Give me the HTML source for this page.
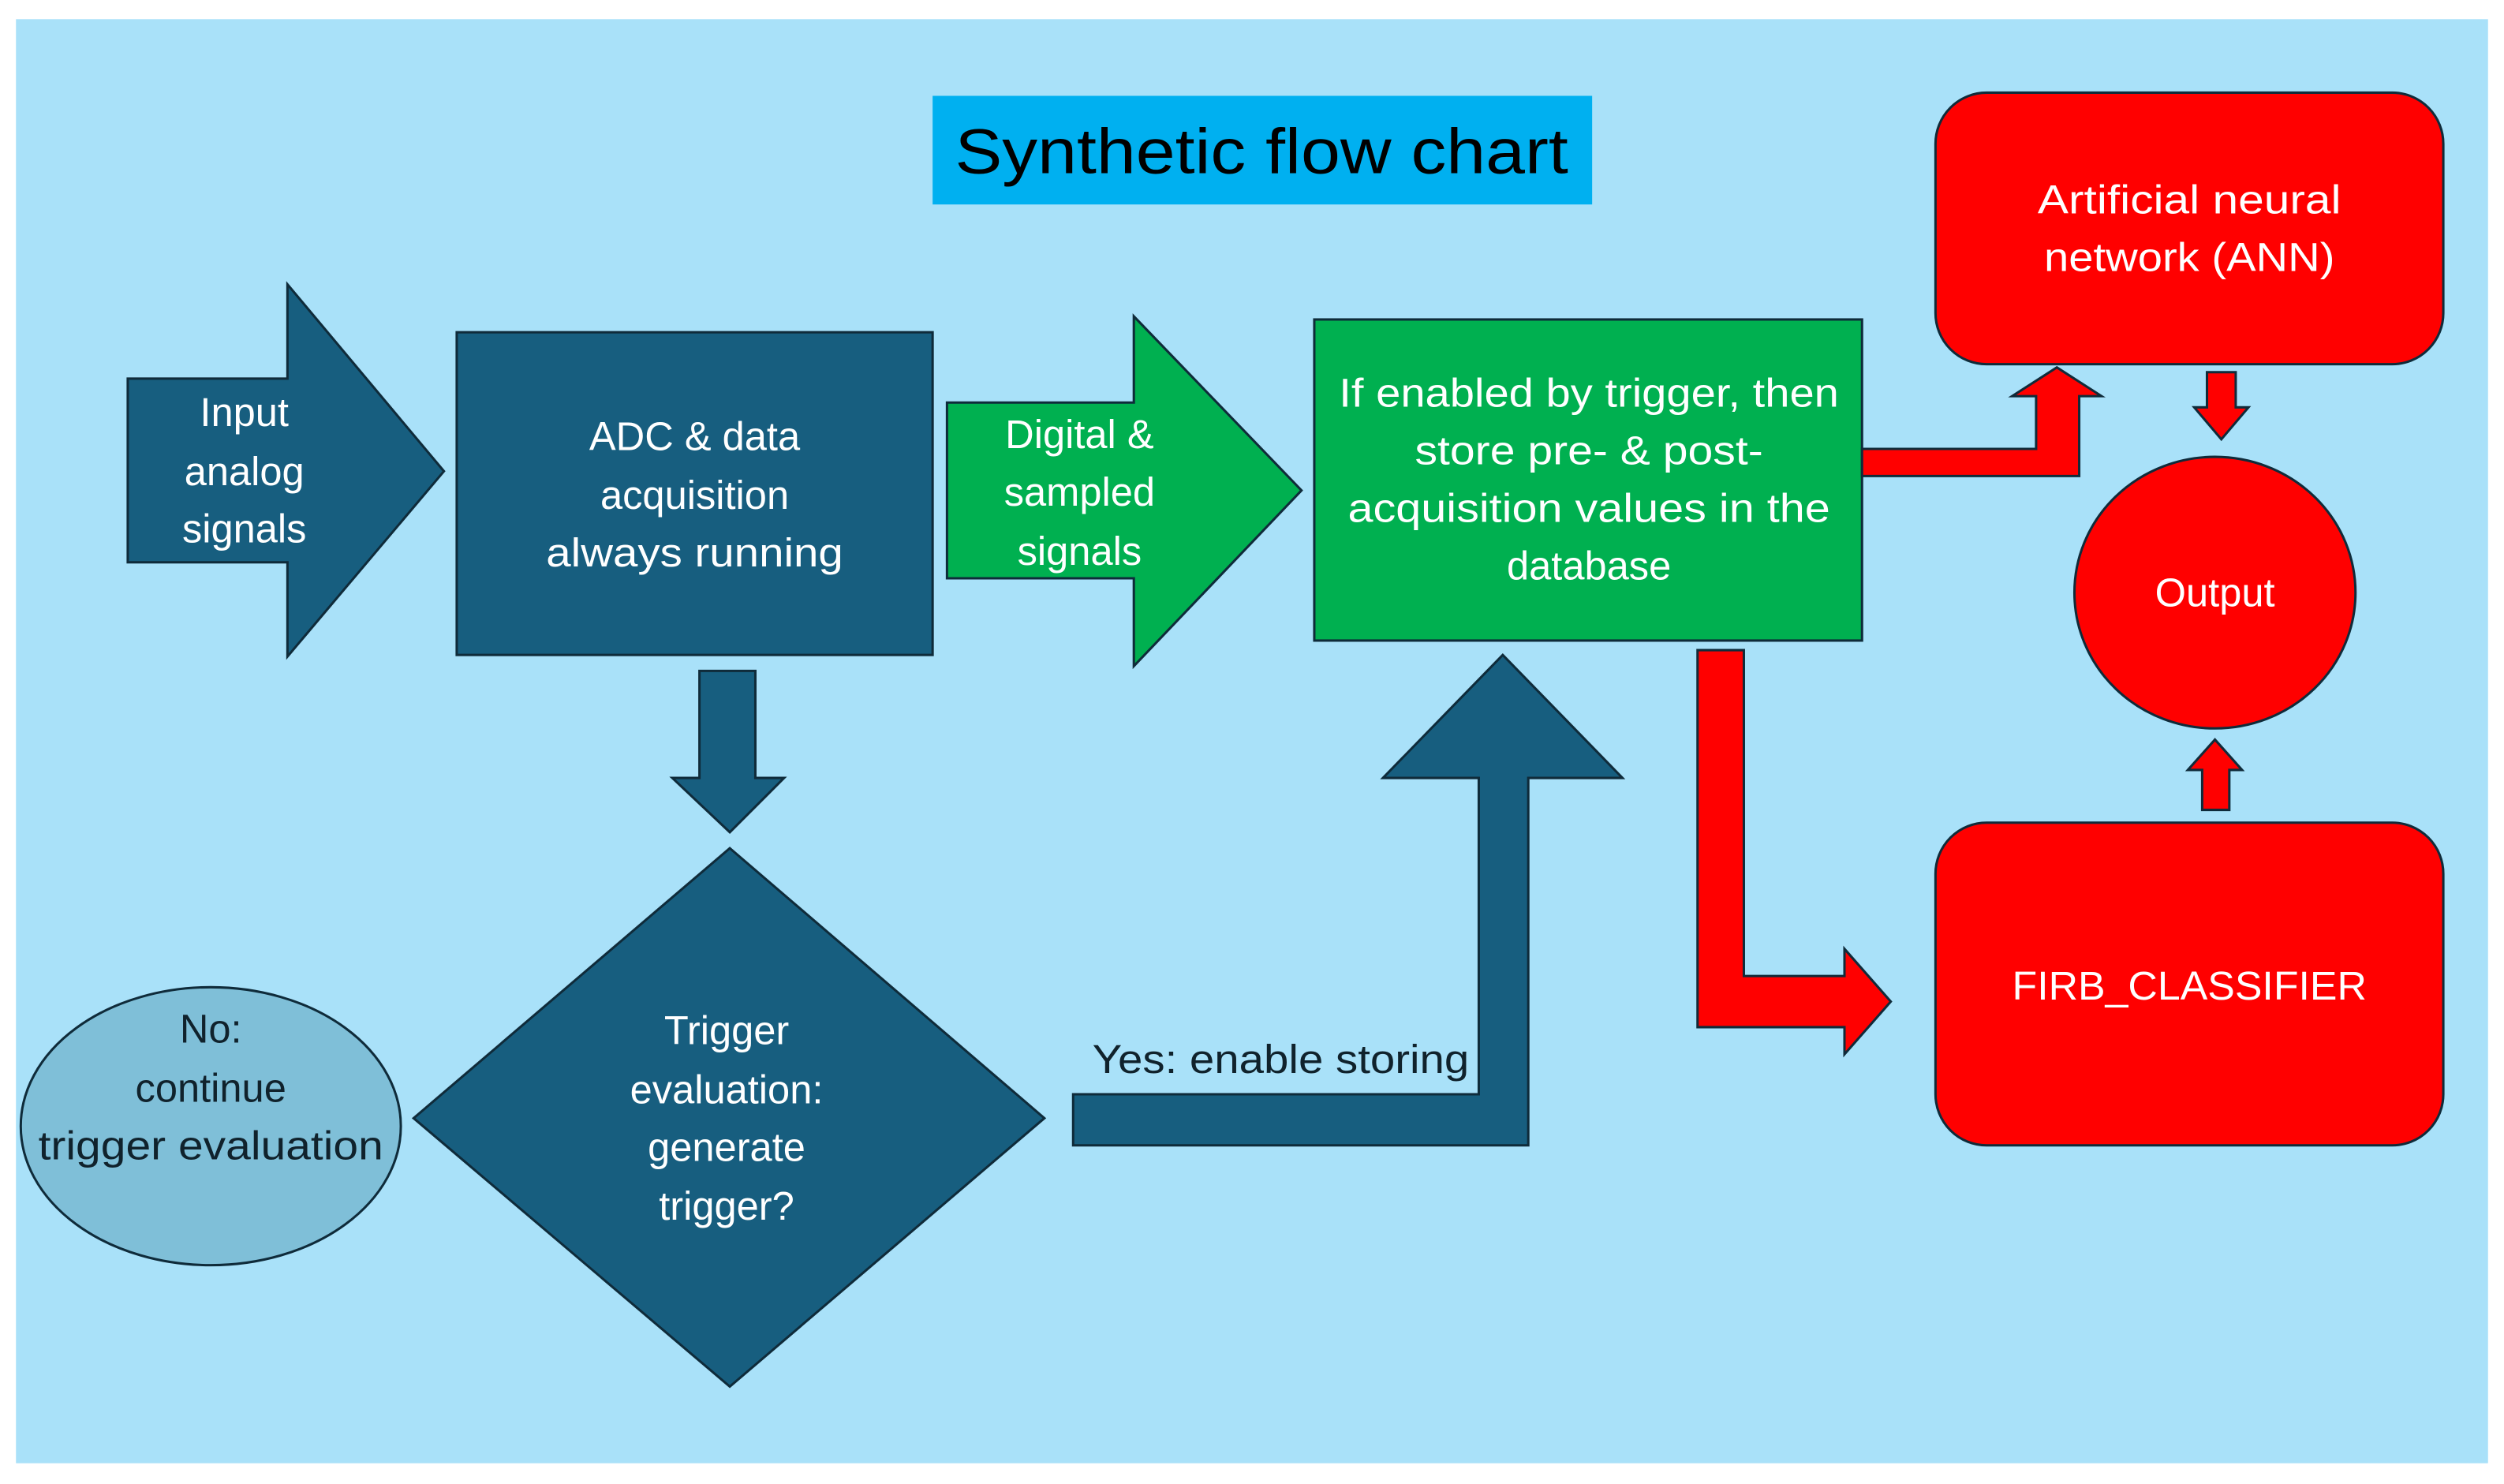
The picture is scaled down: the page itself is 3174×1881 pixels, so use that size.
<!DOCTYPE html>
<html><head><meta charset="utf-8"><style>
html,body{margin:0;padding:0;background:#fff;}
svg{display:block;}
text{font-family:"Liberation Sans",sans-serif;}
</style></head><body>
<svg width="3174" height="1881" viewBox="0 0 1568 929" xmlns="http://www.w3.org/2000/svg" preserveAspectRatio="none">
<rect x="0" y="0" width="1568" height="929" fill="#ffffff"/>
<rect x="10" y="12" width="1548" height="904" fill="#a9e1f9"/>
<rect x="584" y="60" width="413" height="68" fill="#00b0f0"/>
<text x="790" y="95" font-size="40" text-anchor="middle" dominant-baseline="central" fill="#000" textLength="384" lengthAdjust="spacingAndGlyphs">Synthetic flow chart</text>

<g stroke="#0f2b3a" stroke-width="1.5">
<polygon points="80,237 180,237 180,178 278,295 180,411 180,352 80,352" fill="#175e7f"/>
<rect x="286" y="208" width="298" height="202" fill="#175e7f"/>
<polygon points="438,420 473,420 473,487 491,487 457,521 421,487 438,487" fill="#175e7f"/>
<polygon points="457,531 654,700 457,868 259,700" fill="#175e7f"/>
<ellipse cx="132" cy="705" rx="119" ry="87" fill="#7fbfd8"/>
<polygon points="593,252 710,252 710,198 815,307 710,417 710,362 593,362" fill="#00b050"/>
<rect x="823" y="200" width="343" height="201" fill="#00b050"/>
<polygon points="672,685 926,685 926,487 866,487 941,410 1016,487 957,487 957,717 672,717" fill="#175e7f"/>
<polygon points="1166,281 1275,281 1275,248 1260,248 1288,230 1316,248 1302,248 1302,298 1166,298" fill="#ff0000"/>
<rect x="1212" y="58" width="318" height="170" rx="32" fill="#ff0000"/>
<polygon points="1382,233 1400,233 1400,255 1408,255 1391,275 1374,255 1382,255" fill="#ff0000"/>
<ellipse cx="1387" cy="371" rx="88" ry="85" fill="#ff0000"/>
<polygon points="1379,507 1396,507 1396,482 1404,482 1387,463 1370,482 1379,482" fill="#ff0000"/>
<rect x="1212" y="515" width="318" height="202" rx="32" fill="#ff0000"/>
<polygon points="1063,407 1092,407 1092,611 1155,611 1155,594 1184,627 1155,660 1155,643 1063,643" fill="#ff0000"/>
</g>

<g fill="#fff" font-size="25" text-anchor="middle" dominant-baseline="central">
<text x="153" y="258">Input</text>
<text x="153" y="295">analog</text>
<text x="153" y="331">signals</text>
<text x="435" y="273">ADC &amp; data</text>
<text x="435" y="310">acquisition</text>
<text x="435" y="346" textLength="186" lengthAdjust="spacingAndGlyphs">always running</text>
<text x="676" y="272">Digital &amp;</text>
<text x="676" y="308">sampled</text>
<text x="676" y="345">signals</text>
<text x="995" y="246" textLength="313" lengthAdjust="spacingAndGlyphs">If enabled by trigger, then</text>
<text x="995" y="282" textLength="218" lengthAdjust="spacingAndGlyphs">store pre- &amp; post-</text>
<text x="995" y="318" textLength="302" lengthAdjust="spacingAndGlyphs">acquisition values in the</text>
<text x="995" y="354">database</text>
<text x="455" y="645">Trigger</text>
<text x="455" y="682">evaluation:</text>
<text x="455" y="718">generate</text>
<text x="455" y="755">trigger?</text>
<text x="1371" y="125" textLength="190" lengthAdjust="spacingAndGlyphs">Artificial neural</text>
<text x="1371" y="161" textLength="182" lengthAdjust="spacingAndGlyphs">network (ANN)</text>
<text x="1387" y="371">Output</text>
<text x="1371" y="617" textLength="222" lengthAdjust="spacingAndGlyphs">FIRB_CLASSIFIER</text>
</g>
<g fill="#10222c" font-size="25" text-anchor="middle" dominant-baseline="central">
<text x="132" y="644">No:</text>
<text x="132" y="681">continue</text>
<text x="132" y="717" textLength="216" lengthAdjust="spacingAndGlyphs">trigger evaluation</text>
<text x="802" y="663" textLength="236" lengthAdjust="spacingAndGlyphs">Yes: enable storing</text>
</g>
</svg>
</body></html>
